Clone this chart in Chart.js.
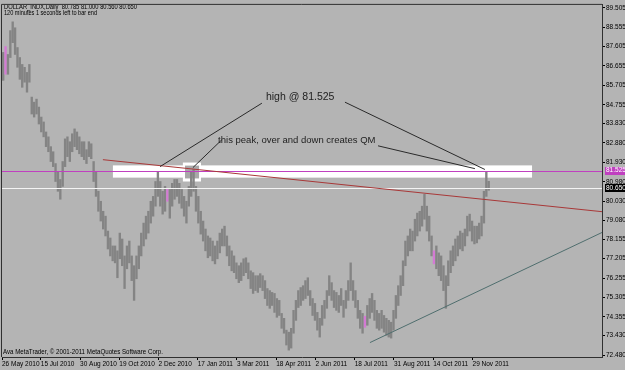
<!DOCTYPE html>
<html>
<head>
<meta charset="utf-8">
<script src="https://cdn.jsdelivr.net/npm/chart.js@4.4.0/dist/chart.umd.min.js"></script>
<style>
html,body{margin:0;padding:0;background:#b4b4b4;}
canvas{display:block;}
</style>
</head>
<body>
<canvas id="c" width="625" height="370"></canvas>
<script>
// DOLLAR_INDX daily (one bar here = 2 trading days)
var highs = [87.32,87.61,87.22,88.39,88.82,88.53,87.56,87.07,86.73,86.59,
  86.34,86.73,85.13,84.88,85.03,84.64,84.15,83.91,83.42,83.18,
  82.70,82.45,81.87,81.48,81.09,81.97,83.08,83.18,82.94,83.33,
  83.57,83.42,83.18,82.94,82.94,82.55,82.94,82.84,81.97,81.48,
  80.51,80.02,79.53,79.29,78.56,78.22,77.83,77.83,77.59,78.46,
  78.17,77.34,77.83,78.07,77.34,76.86,77.34,77.83,78.46,78.95,
  79.29,79.53,80.02,80.26,80.99,81.48,80.99,80.51,80.75,80.65,
  80.60,80.90,81.09,81.09,80.90,80.60,80.26,80.02,80.75,81.48,
  81.58,80.75,80.26,79.53,79.05,78.66,78.32,78.22,78.07,77.83,
  78.07,78.46,78.66,78.80,78.32,77.83,77.59,77.34,77.00,76.86,
  77.00,77.20,77.25,77.00,76.61,76.52,76.37,76.37,76.47,76.37,
  76.13,75.74,75.64,75.55,75.50,75.25,75.16,74.52,74.28,73.70,
  73.60,73.79,74.67,75.16,75.64,75.79,75.88,76.13,76.27,75.64,
  75.25,75.01,74.57,74.28,74.91,75.16,75.64,76.37,76.03,75.64,
  75.55,75.40,75.74,75.16,75.64,76.13,77.00,76.13,75.64,75.16,
  74.67,74.52,74.38,74.91,75.25,75.50,75.16,74.67,74.52,74.67,
  74.42,74.28,74.18,74.09,74.67,75.40,75.88,76.37,77.10,78.07,
  78.32,78.66,78.56,79.14,79.44,79.53,79.78,80.36,79.78,79.29,
  78.32,77.59,77.83,77.49,77.34,76.86,76.37,77.10,77.59,77.83,
  78.17,78.32,78.56,78.46,78.66,79.29,79.39,79.05,78.80,78.80,
  78.95,79.29,80.51,81.45,81.00];
var lows = [85.95,86.25,86.25,87.07,87.80,87.22,86.59,86.00,85.61,85.86,
  85.37,85.86,84.30,84.15,84.30,83.81,83.42,83.18,82.70,82.45,
  81.97,81.72,80.99,80.51,80.12,80.75,81.72,82.21,81.97,82.45,
  82.70,82.55,82.35,82.21,82.06,81.87,82.21,82.11,80.99,80.26,
  79.53,79.05,78.66,78.32,77.68,77.34,77.10,77.00,76.27,77.20,
  76.86,75.74,76.71,77.00,76.13,75.16,76.22,76.71,77.34,77.83,
  78.17,78.46,78.95,79.29,79.78,80.26,79.78,79.39,79.53,80.02,
  79.19,79.78,80.12,80.26,79.92,79.68,79.29,78.95,79.78,80.26,
  80.51,79.53,78.95,78.41,78.07,77.59,77.25,77.34,77.10,76.95,
  77.20,77.49,77.83,77.83,77.34,76.86,76.61,76.52,76.22,76.03,
  76.13,76.37,76.52,76.22,75.74,75.50,75.64,75.55,75.79,75.64,
  75.25,74.91,74.77,74.91,74.57,74.33,74.42,73.79,73.55,72.97,
  72.72,72.82,73.55,74.18,74.81,74.91,75.16,75.25,75.40,74.91,
  74.42,74.18,73.70,73.36,73.94,74.28,74.77,75.40,75.16,74.81,
  74.67,74.57,74.91,74.33,74.77,75.16,75.64,75.16,74.81,74.28,
  73.79,73.55,73.84,73.94,74.28,74.57,74.18,73.79,73.70,73.79,
  73.60,73.45,73.36,73.31,73.70,74.28,74.91,75.40,75.88,76.86,
  77.34,77.59,77.59,78.07,78.32,78.56,78.80,79.14,78.56,78.07,
  77.34,76.95,76.71,76.37,76.13,75.64,74.77,75.88,76.52,76.86,
  77.10,77.34,77.68,77.59,77.83,78.32,78.56,78.07,77.93,77.98,
  78.17,78.32,78.95,80.26,80.56];
var pinkBars = [1, 69, 152, 181];

var dateLabels = ["26 May 2010","15 Jul 2010","30 Aug 2010","19 Oct 2010","2 Dec 2010","17 Jan 2011",
  "3 Mar 2011","18 Apr 2011","2 Jun 2011","18 Jul 2011","31 Aug 2011","14 Oct 2011","29 Nov 2011"];
var dateSlots = [-0.5,15.8,32.3,48.8,65.3,81.7,98.2,114.7,131.2,147.7,164.2,180.7,197.2];
var priceTicks = [89.505,88.555,87.605,86.655,85.705,84.755,83.830,82.880,81.930,80.980,
  80.030,79.080,78.155,77.205,76.255,75.305,74.355,73.430,72.480];

var qmLevel = 81.525;
var lastClose = 80.650;
// objects drawn on the chart: [slot, price]
var zoneBox = [[46.1, 81.78], [222.2, 81.18]];
var peakBoxOuter = [[75.5, 81.92], [83.1, 80.99]];
var peakBoxInner = [[76.4, 81.77], [82.3, 81.14]];
var resistLine = [[41.9, 82.06], [251.6, 79.51]];
var supportLine = [[154.1, 73.09], [251.6, 78.49]];
var pointerLines = [
  [[108.7, 84.83], [65.9, 81.72]],
  [[143.6, 84.88], [202.4, 81.58]],
  [[91.9, 83.04], [79.7, 81.67]],
  [[157.5, 82.74], [198.2, 81.62]]
];
var notes = [
  {text: "high @ 81.525", at: [110.4, 85.13], size: 10.5},
  {text: "this peak, over and down creates QM", at: [90.3, 82.99], size: 9.5}
];

var FONT = '"Liberation Sans", Arial, sans-serif';
Chart.defaults.font.family = FONT;

var barColors = highs.map(function(h, i){ return pinkBars.indexOf(i) >= 0 ? '#d47ad4' : '#848484'; });
var barData = highs.map(function(h, i){ return {x: i, y: [lows[i], h]}; });

function pt(chart, p){
  return [chart.scales.x.getPixelForValue(p[0]), chart.scales.y.getPixelForValue(p[1])];
}
function rect(ctx, chart, box, color){
  var a = pt(chart, box[0]), b = pt(chart, box[1]);
  ctx.fillStyle = color;
  ctx.fillRect(a[0], a[1], b[0]-a[0], b[1]-a[1]);
}
function seg(ctx, chart, line, color){
  var a = pt(chart, line[0]), b = pt(chart, line[1]);
  ctx.strokeStyle = color;
  ctx.lineWidth = 1;
  ctx.beginPath(); ctx.moveTo(a[0], a[1]); ctx.lineTo(b[0], b[1]); ctx.stroke();
}

var mtPlugin = {
  id: 'mt',
  beforeDraw: function(chart){
    var ctx = chart.ctx;
    ctx.save();
    ctx.fillStyle = '#b4b4b4';
    ctx.fillRect(0, 0, chart.width, chart.height);
    ctx.restore();
  },
  beforeDatasetsDraw: function(chart){
    var ctx = chart.ctx, ca = chart.chartArea;
    ctx.save();
    ctx.beginPath(); ctx.rect(ca.left, ca.top, ca.right-ca.left, ca.bottom-ca.top); ctx.clip();
    rect(ctx, chart, zoneBox, '#ffffff');
    rect(ctx, chart, peakBoxOuter, '#ffffff');
    rect(ctx, chart, peakBoxInner, '#a8a8a8');
    ctx.restore();
  },
  afterDatasetsDraw: function(chart){
    var ctx = chart.ctx, ca = chart.chartArea, y = chart.scales.y;
    ctx.save();
    ctx.beginPath(); ctx.rect(ca.left, ca.top, ca.right-ca.left, ca.bottom-ca.top); ctx.clip();
    var yq = Math.round(y.getPixelForValue(qmLevel)) + 0.5;
    ctx.strokeStyle = '#c040c0'; ctx.lineWidth = 1;
    ctx.beginPath(); ctx.moveTo(ca.left, yq); ctx.lineTo(ca.right, yq); ctx.stroke();
    var yc = Math.round(y.getPixelForValue(lastClose)) + 0.5;
    ctx.strokeStyle = '#f4f4f4';
    ctx.beginPath(); ctx.moveTo(ca.left, yc); ctx.lineTo(ca.right, yc); ctx.stroke();
    seg(ctx, chart, resistLine, '#a83838');
    seg(ctx, chart, supportLine, '#4f6e6e');
    pointerLines.forEach(function(l){ seg(ctx, chart, l, '#2a2a2a'); });
    ctx.fillStyle = '#1e1e1e';
    ctx.textBaseline = 'middle';
    ctx.textAlign = 'left';
    notes.forEach(function(n){
      var p = pt(chart, n.at);
      ctx.font = n.size + 'px ' + FONT;
      ctx.fillText(n.text, p[0], p[1]);
    });
    // header and copyright, squeezed to the narrow terminal font
    ctx.fillStyle = '#000';
    ctx.font = '7px ' + FONT;
    ctx.textBaseline = 'alphabetic';
    ctx.fillText('DOLLAR_INDX,Daily  80.785 81.000 80.560 80.650', 4, 8.5, 133);
    ctx.fillText('120 minutes 1 seconds left to bar end', 4, 15, 93);
    ctx.fillText('Ava MetaTrader, \u00a9 2001-2011 MetaQuotes Software Corp.', 3, 354, 160);
    ctx.restore();
    // frame
    ctx.save();
    ctx.strokeStyle = '#303030'; ctx.lineWidth = 1;
    ctx.beginPath();
    ctx.moveTo(ca.left - 0.5, ca.bottom); ctx.lineTo(ca.left - 0.5, ca.top - 0.5); ctx.lineTo(ca.right, ca.top - 0.5);
    ctx.stroke();
    ctx.restore();
  },
  afterDraw: function(chart){
    var ctx = chart.ctx, y = chart.scales.y, ca = chart.chartArea;
    ctx.save();
    ctx.font = '6.5px ' + FONT;
    ctx.textBaseline = 'middle';
    [[qmLevel, '#c040c0', '#ffffff'], [lastClose, '#000000', '#ffffff']].forEach(function(b){
      var py = y.getPixelForValue(b[0]);
      ctx.fillStyle = b[1];
      ctx.fillRect(ca.right + 3, Math.round(py) - 4, 22, 8);
      ctx.fillStyle = b[2];
      ctx.fillText(b[0].toFixed(3), ca.right + 4, py);
    });
    ctx.restore();
  }
};

new Chart(document.getElementById('c'), {
  type: 'bar',
  data: {
    datasets: [{
      data: barData,
      backgroundColor: barColors,
      borderWidth: 0,
      barThickness: 1.7,
      grouped: false
    }]
  },
  options: {
    responsive: false,
    animation: false,
    layout: {padding: {left: 2, top: 2, right: 0, bottom: 0}},
    plugins: {legend: {display: false}, tooltip: {enabled: false}},
    scales: {
      x: {
        type: 'linear',
        position: 'bottom',
        offset: false,
        min: -0.5,
        max: 251.6,
        afterBuildTicks: function(s){ s.ticks = dateSlots.map(function(v){ return {value: v}; }); },
        afterFit: function(s){ s.height = 13; },
        grid: {drawOnChartArea: false, offset: false, tickLength: 3, color: '#000'},
        border: {color: '#303030'},
        ticks: {
          autoSkip: false, maxRotation: 0, align: 'start', padding: 0,
          color: '#000', font: {size: 6.5},
          callback: function(v, i){ return dateLabels[i]; }
        }
      },
      y: {
        type: 'linear',
        position: 'right',
        min: 72.383,
        max: 89.651,
        afterBuildTicks: function(s){ s.ticks = priceTicks.map(function(v){ return {value: v}; }); },
        afterFit: function(s){ s.width = 23; },
        grid: {drawOnChartArea: false, tickLength: 3, color: '#000'},
        border: {color: '#303030'},
        ticks: {
          padding: 1, crossAlign: 'near', color: '#000', font: {size: 6.5},
          callback: function(v){ return v.toFixed(3); }
        }
      }
    }
  },
  plugins: [mtPlugin]
});
</script>
</body>
</html>
